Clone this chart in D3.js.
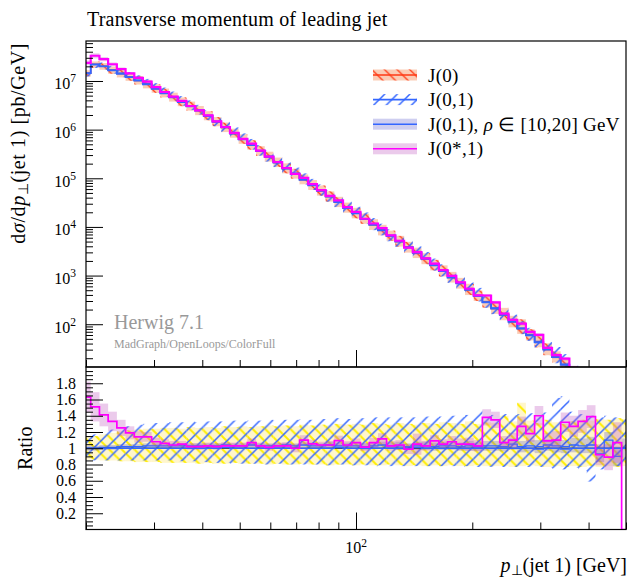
<!DOCTYPE html>
<html>
<head>
<meta charset="utf-8">
<script src="https://cdn.jsdelivr.net/npm/d3@7"></script>
<style>
  body { margin: 0; background: #fff; }
  svg text { font-family: "Liberation Serif", serif; fill: #000; }
</style>
</head>
<body>
<div id="chart"></div>
<script>
// bin edges in GeV (63 bins)
var binEdges = [19.53, 20.57, 21.67, 22.82, 24.04, 25.32, 26.67, 28.08, 29.58, 31.15,
  32.81, 34.56, 36.40, 38.33, 40.37, 42.52, 44.78, 47.17, 49.68, 52.32,
  55.11, 58.04, 61.13, 64.39, 67.81, 71.42, 75.22, 79.23, 83.44, 87.88,
  92.56, 97.53, 102.7, 108.2, 114.0, 120.0, 126.4, 133.2, 140.3, 147.7,
  155.6, 163.9, 172.6, 181.8, 191.5, 201.7, 212.4, 223.7, 235.6, 248.2,
  261.4, 275.3, 290.0, 305.4, 321.7, 338.8, 356.8, 375.8, 395.8, 416.9,
  439.1, 462.5, 487.1, 513.1];

// J(0) cross section, pb/GeV
var j0Values = [1.45e7, 2.19e7, 2.0e7, 1.66e7, 1.41e7, 1.20e7, 1.02e7, 8.5e6, 6.9e6, 5.6e6,
  4.6e6, 3.7e6, 3.0e6, 2.45e6, 1.9e6, 1.45e6, 1.1e6, 8.3e5, 6.3e5, 4.8e5,
  3.6e5, 2.75e5, 2.1e5, 1.58e5, 1.23e5, 9.3e4, 7.2e4, 5.5e4, 4.2e4, 3.2e4,
  2.45e4, 1.9e4, 1.45e4, 1.1e4, 8500, 6500, 5000, 3800, 2900, 2200,
  1620, 1230, 910, 690, 510, 380, 282, 209, 155, 112,
  81, 59, 43, 30, 21, 14.8, 10, 6.8, 4.5, 2.95,
  1.95, 1.26, 0.8];

// J(0) band relative to J(0)
var j0Lo = [0.86, 0.86, 0.85, 0.85, 0.84, 0.84, 0.83, 0.83, 0.83, 0.82,
  0.82, 0.82, 0.82, 0.81, 0.82, 0.81, 0.81, 0.82, 0.81, 0.81,
  0.81, 0.80, 0.81, 0.80, 0.80, 0.81, 0.80, 0.80, 0.79, 0.80,
  0.80, 0.79, 0.80, 0.79, 0.79, 0.80, 0.79, 0.78, 0.79, 0.78,
  0.79, 0.78, 0.79, 0.78, 0.78, 0.79, 0.78, 0.78, 0.78, 0.77,
  0.78, 0.79, 0.78, 0.77, 0.78, 0.77, 0.78, 0.77, 0.78, 0.77,
  0.78, 0.77, 0.78];
var j0Hi = [1.15, 1.15, 1.17, 1.19, 1.21, 1.22, 1.23, 1.24, 1.24, 1.25,
  1.25, 1.24, 1.26, 1.25, 1.26, 1.25, 1.27, 1.26, 1.27, 1.26,
  1.27, 1.28, 1.27, 1.28, 1.27, 1.29, 1.28, 1.29, 1.28, 1.30,
  1.29, 1.30, 1.29, 1.31, 1.30, 1.29, 1.31, 1.30, 1.29, 1.31,
  1.30, 1.32, 1.31, 1.30, 1.33, 1.30, 1.32, 1.31, 1.40, 1.33,
  1.56, 1.34, 1.31, 1.35, 1.32, 1.30, 1.33, 1.35, 1.34, 1.36,
  1.35, 1.37, 1.36];

// J(0,1) ratio to J(0) and its band
var j01Ratio = [1.00, 1.00, 1.00, 1.00, 1.00, 1.00, 1.00, 1.00, 1.00, 1.00,
  1.00, 1.00, 1.00, 1.00, 1.00, 1.00, 1.01, 1.00, 1.00, 1.00,
  1.00, 1.00, 1.00, 1.00, 1.00, 1.00, 1.00, 1.00, 1.00, 1.01,
  1.00, 1.00, 1.00, 1.00, 1.00, 1.00, 1.00, 1.00, 1.01, 1.00,
  1.00, 1.00, 1.00, 1.00, 1.00, 1.00, 1.00, 1.00, 1.00, 1.00,
  1.00, 1.00, 0.99, 1.00, 1.00, 0.99, 1.00, 1.00, 1.00, 1.00,
  1.00, 1.00, 1.00];
var j01Lo = [0.85, 0.85, 0.85, 0.85, 0.85, 0.85, 0.85, 0.85, 0.85, 0.85,
  0.85, 0.84, 0.84, 0.83, 0.83, 0.82, 0.82, 0.81, 0.81, 0.81,
  0.81, 0.80, 0.81, 0.80, 0.80, 0.80, 0.80, 0.80, 0.79, 0.80,
  0.79, 0.79, 0.79, 0.78, 0.79, 0.78, 0.78, 0.78, 0.78, 0.78,
  0.78, 0.78, 0.78, 0.77, 0.78, 0.77, 0.77, 0.77, 0.77, 0.77,
  0.77, 0.77, 0.77, 0.76, 0.75, 0.74, 0.76, 0.72, 0.59, 0.74,
  0.76, 0.78, 0.80];
var j01Hi = [1.14, 1.17, 1.20, 1.23, 1.25, 1.27, 1.29, 1.30, 1.31, 1.31,
  1.32, 1.32, 1.33, 1.32, 1.33, 1.33, 1.33, 1.34, 1.33, 1.34,
  1.34, 1.35, 1.34, 1.35, 1.35, 1.36, 1.35, 1.36, 1.36, 1.37,
  1.36, 1.37, 1.37, 1.38, 1.37, 1.38, 1.38, 1.39, 1.38, 1.39,
  1.38, 1.39, 1.40, 1.39, 1.41, 1.47, 1.40, 1.41, 1.42, 1.41,
  1.42, 1.43, 1.42, 1.44, 1.62, 1.64, 1.45, 1.42, 1.40, 1.38,
  1.40, 1.38, 1.36];

// J(0,1), rho in [10,20] GeV
var rhoRatio = [1.00, 1.00, 1.01, 1.01, 1.02, 1.02, 1.02, 1.03, 1.03, 1.03,
  1.03, 1.03, 1.03, 1.03, 1.03, 1.03, 1.04, 1.03, 1.03, 1.04,
  1.03, 1.03, 1.03, 1.04, 1.03, 1.04, 1.03, 1.03, 1.04, 1.03,
  1.03, 1.03, 1.02, 1.03, 1.04, 1.03, 1.03, 1.02, 1.03, 1.03,
  1.02, 1.03, 1.03, 1.02, 1.03, 1.02, 1.03, 1.03, 1.02, 1.05,
  1.02, 1.03, 1.02, 1.04, 1.03, 1.02, 1.04, 1.03, 1.04, 0.93,
  1.10, 0.90, 1.00];
var rhoErr = [0.03, 0.03, 0.03, 0.03, 0.03, 0.03, 0.03, 0.03, 0.03, 0.03,
  0.03, 0.03, 0.03, 0.03, 0.03, 0.03, 0.03, 0.03, 0.03, 0.03,
  0.03, 0.03, 0.03, 0.03, 0.03, 0.03, 0.04, 0.03, 0.04, 0.04,
  0.04, 0.04, 0.04, 0.04, 0.04, 0.04, 0.05, 0.04, 0.05, 0.05,
  0.05, 0.05, 0.05, 0.05, 0.06, 0.05, 0.06, 0.06, 0.06, 0.07,
  0.07, 0.07, 0.08, 0.07, 0.08, 0.08, 0.09, 0.09, 0.10, 0.10,
  0.10, 0.12, 0.12];

// J(0*,1)
var starRatio = [1.63, 1.51, 1.41, 1.33, 1.25, 1.19, 1.14, 1.14, 1.08, 1.06,
  1.04, 1.05, 1.02, 1.02, 1.03, 1.02, 1.03, 1.03, 1.03, 1.07,
  1.03, 1.01, 1.03, 1.03, 1.00, 1.10, 1.055, 1.04, 1.04, 1.095,
  1.04, 1.07, 1.015, 1.07, 1.115, 1.03, 1.04, 0.99, 1.05, 1.03,
  1.09, 1.05, 1.08, 1.05, 1.05, 1.03, 1.38, 1.35, 1.07, 1.10,
  1.27, 1.18, 1.40, 1.09, 1.10, 1.32, 1.27, 1.33, 1.39, 0.92,
  0.89, 1.07, 0];
var starErr = [0.19, 0.18, 0.14, 0.12, 0.10, 0.08, 0.07, 0.06, 0.05, 0.05,
  0.05, 0.04, 0.04, 0.04, 0.04, 0.04, 0.04, 0.04, 0.04, 0.05,
  0.04, 0.04, 0.04, 0.04, 0.05, 0.06, 0.05, 0.04, 0.05, 0.06,
  0.05, 0.05, 0.05, 0.06, 0.07, 0.06, 0.06, 0.06, 0.13, 0.06,
  0.07, 0.06, 0.07, 0.07, 0.08, 0.07, 0.10, 0.10, 0.08, 0.09,
  0.12, 0.10, 0.12, 0.10, 0.11, 0.12, 0.13, 0.14, 0.14, 0.13,
  0.16, 0.25, 0];

var xMinorTicks = [20, 30, 40, 50, 60, 70, 80, 90, 200, 300, 400, 500];
var xMajorTicks = [100];
var yMajorExps = [2, 3, 4, 5, 6, 7];
var ratioTickLabels = [0.2, 0.4, 0.6, 0.8, 1, 1.2, 1.4, 1.6, 1.8];

var legendLabels = ["J(0)", "J(0,1)", "J(0,1), ρ ∈  [10,20] GeV", "J(0*,1)"];

var col = {
  red: "#ff3a14", salmon: "rgba(245,120,60,0.38)",
  blue: "#3366ff", lavender: "rgba(80,80,200,0.28)",
  magenta: "#ff00ff", pink: "rgba(190,80,190,0.3)",
  yellowFill: "rgba(255,236,140,0.45)", yellow: "#ffee00"
};

var W = 629, H = 584;
var left = 86, right = 626, mainTop = 41, mainBottom = 367, ratioBottom = 529.5;
var nBins = j0Values.length;
var bins = d3.range(nBins);

var x = d3.scaleLog().domain([20, 500]).range([left, right]);
var y = d3.scaleLog().domain([13.2, 6.64e7]).range([mainBottom, mainTop]);
var yr = d3.scaleLinear().domain([0, 2]).range([ratioBottom, mainBottom]);

var svg = d3.select("#chart").append("svg")
    .attr("width", W).attr("height", H);

var defs = svg.append("defs");
function hatch(id, color, width, forward) {
  var s = 12.6, q = s / 4;
  var d = forward
    ? "M0," + s + "L" + s + ",0 M" + (-q) + "," + q + "L" + q + "," + (-q) + " M" + (s - q) + "," + (s + q) + "L" + (s + q) + "," + (s - q)
    : "M0,0L" + s + "," + s + " M" + (-q) + "," + (s - q) + "L" + q + "," + (s + q) + " M" + (s - q) + "," + (-q) + "L" + (s + q) + "," + q;
  defs.append("pattern").attr("id", id)
      .attr("patternUnits", "userSpaceOnUse")
      .attr("width", s).attr("height", s)
    .append("path").attr("d", d)
      .attr("stroke", color).attr("stroke-width", width).attr("fill", "none");
}
hatch("hRed", col.red, 1.3, false);
hatch("hBlue", col.blue, 1.5, true);
hatch("hYellow", col.yellow, 2, false);

defs.append("clipPath").attr("id", "clipMain").append("rect")
    .attr("x", left).attr("y", mainTop).attr("width", right - left).attr("height", mainBottom - mainTop);
defs.append("clipPath").attr("id", "clipRatio").append("rect")
    .attr("x", left).attr("y", mainBottom).attr("width", right - left).attr("height", ratioBottom - mainBottom);

// helpers
function bandRects(g, yScale, lo, hi, fill) {
  g.append("g").selectAll("rect")
    .data(bins)
    .join("rect")
      .attr("x", function(i) { return x(binEdges[i]); })
      .attr("width", function(i) { return x(binEdges[i + 1]) - x(binEdges[i]); })
      .attr("y", function(i) { return yScale(hi(i)); })
      .attr("height", function(i) { return Math.max(0, yScale(lo(i)) - yScale(hi(i))); })
      .attr("fill", fill);
}
function stepLine(g, yScale, val, color, width) {
  var pts = [];
  bins.forEach(function(i) {
    var v = yScale(val(i));
    pts.push([x(binEdges[i]), v]);
    pts.push([x(binEdges[i + 1]), v]);
  });
  g.append("path").attr("d", d3.line()(pts))
    .attr("fill", "none").attr("stroke", color).attr("stroke-width", width);
}
function safe(v) { return Math.max(v, 1e-3); }

// ---- main panel
var gm = svg.append("g").attr("clip-path", "url(#clipMain)");
bandRects(gm, y, function(i) { return safe(j0Values[i] * j0Lo[i]); }, function(i) { return safe(j0Values[i] * j0Hi[i]); }, col.salmon);
bandRects(gm, y, function(i) { return safe(j0Values[i] * j0Lo[i]); }, function(i) { return safe(j0Values[i] * j0Hi[i]); }, "url(#hRed)");
bandRects(gm, y, function(i) { return safe(j0Values[i] * j01Lo[i]); }, function(i) { return safe(j0Values[i] * j01Hi[i]); }, "url(#hBlue)");
bandRects(gm, y, function(i) { return safe(j0Values[i] * (rhoRatio[i] - rhoErr[i])); }, function(i) { return safe(j0Values[i] * (rhoRatio[i] + rhoErr[i])); }, col.lavender);
stepLine(gm, y, function(i) { return safe(j0Values[i] * rhoRatio[i]); }, col.blue, 1.5);
bandRects(gm, y, function(i) { return safe(j0Values[i] * (starRatio[i] - starErr[i])); }, function(i) { return safe(j0Values[i] * (starRatio[i] + starErr[i])); }, col.pink);
stepLine(gm, y, function(i) { return safe(j0Values[i]); }, col.red, 1.2);
stepLine(gm, y, function(i) { return safe(j0Values[i] * j01Ratio[i]); }, col.blue, 1.8);
stepLine(gm, y, function(i) { return safe(j0Values[i] * starRatio[i]); }, col.magenta, 2.2);

// ---- ratio panel
var gr = svg.append("g").attr("clip-path", "url(#clipRatio)");
bandRects(gr, yr, function(i) { return j0Lo[i]; }, function(i) { return j0Hi[i]; }, col.yellowFill);
bandRects(gr, yr, function(i) { return j0Lo[i]; }, function(i) { return j0Hi[i]; }, "url(#hYellow)");
bandRects(gr, yr, function(i) { return j01Lo[i]; }, function(i) { return j01Hi[i]; }, "url(#hBlue)");
bandRects(gr, yr, function(i) { return rhoRatio[i] - rhoErr[i]; }, function(i) { return rhoRatio[i] + rhoErr[i]; }, col.lavender);
stepLine(gr, yr, function(i) { return rhoRatio[i]; }, col.blue, 1.3);
bandRects(gr, yr, function(i) { return starRatio[i] - starErr[i]; }, function(i) { return starRatio[i] + starErr[i]; }, col.pink);
stepLine(gr, yr, function() { return 1; }, "#222", 1);
stepLine(gr, yr, function(i) { return j01Ratio[i]; }, col.blue, 1.5);
stepLine(gr, yr, function(i) { return starRatio[i]; }, col.magenta, 1.7);

// ---- frames
svg.append("rect").attr("x", left).attr("y", mainTop).attr("width", right - left).attr("height", mainBottom - mainTop)
  .attr("fill", "none").attr("stroke", "#000").attr("stroke-width", 1.2);
svg.append("rect").attr("x", left).attr("y", mainBottom).attr("width", right - left).attr("height", ratioBottom - mainBottom)
  .attr("fill", "none").attr("stroke", "#000").attr("stroke-width", 1.2);

// ---- axes (ticks pointing inwards)
function tickAxis(axis, transform) {
  var g = svg.append("g").attr("transform", transform).call(axis);
  g.select(".domain").remove();
  g.selectAll("line").attr("stroke", "#000").attr("stroke-width", 1);
  g.selectAll("text").remove();
  return g;
}
var yMinor = [];
yMajorExps.concat([1]).forEach(function(e) {
  for (var k = 2; k <= 9; k++) {
    var v = k * Math.pow(10, e);
    if (v > y.domain()[0] && v < y.domain()[1]) yMinor.push(v);
  }
});
tickAxis(d3.axisLeft(y).tickValues(yMajorExps.map(function(e) { return Math.pow(10, e); })).tickSize(-17), "translate(" + left + ",0)");
tickAxis(d3.axisLeft(y).tickValues(yMinor).tickSize(-7), "translate(" + left + ",0)");

var rMinor = d3.range(0.05, 2, 0.05).filter(function(v) { return Math.abs(v * 5 - Math.round(v * 5)) > 1e-6; });
tickAxis(d3.axisLeft(yr).tickValues(ratioTickLabels).tickSize(-17), "translate(" + left + ",0)");
tickAxis(d3.axisLeft(yr).tickValues(rMinor).tickSize(-7), "translate(" + left + ",0)");

[mainBottom, ratioBottom].forEach(function(yy) {
  tickAxis(d3.axisBottom(x).tickValues(xMajorTicks).tickSize(-17), "translate(0," + yy + ")");
  tickAxis(d3.axisBottom(x).tickValues(xMinorTicks).tickSize(-7), "translate(0," + yy + ")");
});

// tick labels
yMajorExps.forEach(function(e) {
  var t = svg.append("text").attr("x", 76).attr("y", y(Math.pow(10, e)) + 8.5)
    .attr("text-anchor", "end").style("font-size", "16px");
  t.append("tspan").text("10");
  t.append("tspan").attr("dy", -7).style("font-size", "11.5px").text(e);
});
ratioTickLabels.forEach(function(v) {
  svg.append("text").attr("x", 76).attr("y", yr(v) + 5.5)
    .attr("text-anchor", "end").style("font-size", "16px").text(v);
});
xMajorTicks.forEach(function(v) {
  var t = svg.append("text").attr("x", x(v)).attr("y", 553)
    .attr("text-anchor", "middle").style("font-size", "16px");
  t.append("tspan").text("10");
  t.append("tspan").attr("dy", -6).style("font-size", "11.5px").text(Math.round(Math.log10(v)));
});

// titles and axis labels
svg.append("text").attr("x", 87).attr("y", 26).style("font-size", "20px")
  .style("letter-spacing", "0.2px")
  .text("Transverse momentum of leading jet");

var yl = svg.append("text").attr("transform", "translate(25,43) rotate(-90)")
  .attr("text-anchor", "end").style("font-size", "20px").style("letter-spacing", "0.6px");
yl.append("tspan").text("d");
yl.append("tspan").style("font-style", "italic").text("σ");
yl.append("tspan").text("/d");
yl.append("tspan").style("font-style", "italic").text("p");
yl.append("tspan").attr("dy", 3).style("font-size", "14px").text("⊥");
yl.append("tspan").attr("dy", -3).text("(jet 1) [pb/GeV]");

svg.append("text").attr("transform", "translate(31.5," + yr(1) + ") rotate(-90)")
  .attr("text-anchor", "middle").style("font-size", "20px").text("Ratio");

var xl = svg.append("text").attr("x", 627).attr("y", 572)
  .attr("text-anchor", "end").style("font-size", "20px");
xl.append("tspan").style("font-style", "italic").text("p");
xl.append("tspan").attr("dy", 3).style("font-size", "14px").text("⊥");
xl.append("tspan").attr("dy", -3).text("(jet 1) [GeV]");

svg.append("text").attr("x", 114).attr("y", 329).style("font-size", "20px")
  .style("fill", "#999").text("Herwig 7.1");
svg.append("text").attr("x", 114).attr("y", 348).style("font-size", "12px")
  .style("fill", "#999").text("MadGraph/OpenLoops/ColorFull");

// ---- legend
var legendRows = [
  { fills: [col.salmon, "url(#hRed)"], line: col.red },
  { fills: ["url(#hBlue)"], line: col.blue },
  { fills: [col.lavender], line: col.blue },
  { fills: [col.pink], line: col.magenta }
];
var lg = svg.append("g");
legendRows.forEach(function(r, i) {
  var cy = 75 + i * 24.6;
  r.fills.forEach(function(f) {
    lg.append("rect").attr("x", 373).attr("y", cy - 5.5).attr("width", 44).attr("height", 11).attr("fill", f);
  });
  lg.append("line").attr("x1", 373).attr("x2", 417).attr("y1", cy).attr("y2", cy)
    .attr("stroke", r.line).attr("stroke-width", 1.6);
  var t = lg.append("text").attr("x", 428).attr("y", cy + 6.5).style("font-size", "19px")
    .style("letter-spacing", "0.3px");
  if (i === 2) {
    t.append("tspan").text("J(0,1), ");
    t.append("tspan").style("font-style", "italic").text("ρ");
    t.append("tspan").text(" ∈  [10,20] GeV");
  } else {
    t.text(legendLabels[i]);
  }
});
</script>
</body>
</html>
